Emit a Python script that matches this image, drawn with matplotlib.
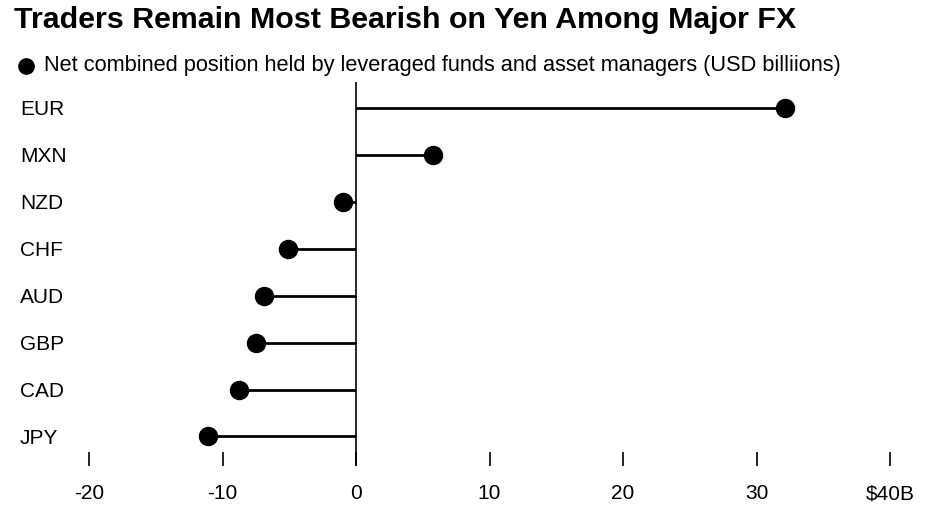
import matplotlib.pyplot as plt
from matplotlib import transforms

plt.rcParams['font.family'] = ['Liberation Sans', 'DejaVu Sans']

currencies = ['EUR', 'MXN', 'NZD', 'CHF', 'AUD', 'GBP', 'CAD', 'JPY']
positions = [32.1, 5.8, -1.0, -5.1, -6.9, -7.5, -8.75, -11.1]
xticks = [-20, -10, 0, 10, 20, 30, 40]
xtick_labels = ['-20', '-10', '0', '10', '20', '30', '$40B']

W, H = 933, 522
fig = plt.figure(figsize=(W / 100, H / 100), dpi=100)
# axes spans pixel x 89..890 (-20..40) and pixel y 82..466
ax = fig.add_axes([89 / W, 1 - 466 / H, (890 - 89) / W, (466 - 82) / H])

rows = list(range(len(currencies)))
ax.hlines(rows, 0, positions, color='black', lw=2.0, zorder=2)
ax.plot(positions, rows, 'o', color='black', ms=13, zorder=3, clip_on=False)
ax.axvline(0, color='black', lw=1.2, zorder=1)

ax.set_xlim(-20, 40)
ax.set_ylim(7.63, -0.554)
ax.set_yticks([])
ax.set_xticks(xticks)
ax.set_xticklabels(xtick_labels, fontsize=15)
ax.tick_params(axis='x', direction='in', length=10, width=1.2, pad=13, colors='black')
for s in ax.spines.values():
    s.set_visible(False)

trans = transforms.blended_transform_factory(fig.transFigure, ax.transData)
for r, c in zip(rows, currencies):
    ax.text(20 / W, r, c, transform=trans, ha='left', va='center_baseline', fontsize=15)

fig.text(14 / W, 1 - 20 / H, 'Traders Remain Most Bearish on Yen Among Major FX',
         fontsize=21.9, fontweight='bold', ha='left', va='center')
fig.add_artist(plt.Line2D([26 / W], [1 - 66 / H], marker='o', ms=11, color='black',
                          transform=fig.transFigure))
fig.text(44 / W, 1 - 66 / H,
         'Net combined position held by leveraged funds and asset managers (USD billiions)',
         fontsize=15.65, ha='left', va='center')

fig.savefig('out.png', dpi=100)
